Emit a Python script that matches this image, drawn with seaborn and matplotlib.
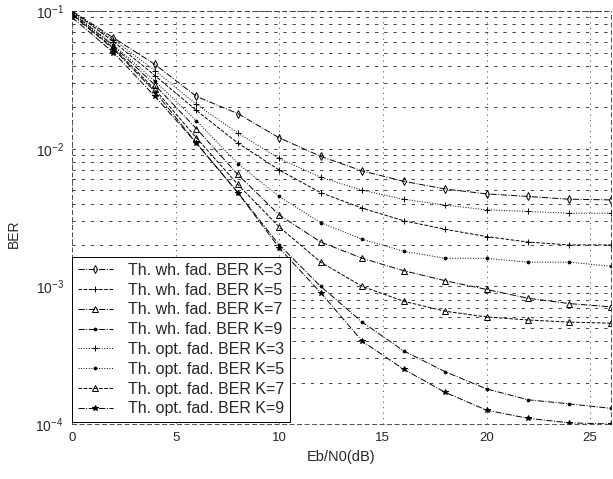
import numpy as np
import pandas as pd
import matplotlib
matplotlib.use("Agg")
import matplotlib.pyplot as plt
import seaborn as sns
from matplotlib.ticker import LogLocator, FixedLocator

ebn0 = [0, 2, 4, 6, 8, 10, 12, 14, 16, 18, 20, 22, 24, 26]

wh_k3 = [0.1, 0.064, 0.041, 0.024, 0.018, 0.012, 0.0088, 0.0069, 0.0058, 0.0051, 0.0047, 0.0045, 0.0043, 0.00425]
wh_k5 = [0.1, 0.06, 0.034, 0.019, 0.011, 0.007, 0.0048, 0.0037, 0.003, 0.0026, 0.0023, 0.0021, 0.0020, 0.0020]
wh_k7 = [0.097, 0.056, 0.029, 0.014, 0.0065, 0.0033, 0.0021, 0.0016, 0.0013, 0.0011, 0.00095, 0.00082, 0.00075, 0.00071]
wh_k9 = [0.094, 0.053, 0.026, 0.011, 0.0048, 0.002, 0.001, 0.00055, 0.00034, 0.00024, 0.00018, 0.00015, 0.00014, 0.00013]
opt_k3 = [0.1, 0.062, 0.037, 0.021, 0.013, 0.0085, 0.0062, 0.005, 0.0043, 0.0039, 0.0036, 0.0035, 0.0034, 0.0034]
opt_k5 = [0.098, 0.057, 0.031, 0.016, 0.0078, 0.0045, 0.0029, 0.0022, 0.0018, 0.0016, 0.0016, 0.0015, 0.0015, 0.0014]
opt_k7 = [0.095, 0.054, 0.027, 0.012, 0.0055, 0.0027, 0.0015, 0.001, 0.00078, 0.00066, 0.0006, 0.00057, 0.00055, 0.00054]
opt_k9 = [0.09, 0.05, 0.024, 0.011, 0.0048, 0.0019, 0.0009, 0.0004, 0.00025, 0.00017, 0.000126, 0.00011, 0.000102, 0.0001]

labels = ["Th. wh. fad. BER K=3", "Th. wh. fad. BER K=5", "Th. wh. fad. BER K=7",
          "Th. wh. fad. BER K=9", "Th. opt. fad. BER K=3", "Th. opt. fad. BER K=5",
          "Th. opt. fad. BER K=7", "Th. opt. fad. BER K=9"]
series = [wh_k3, wh_k5, wh_k7, wh_k9, opt_k3, opt_k5, opt_k7, opt_k9]

styles = [("-.", "d"), ("--", "+"), ("-.", "^"), ("-.", "."),
          (":", "+"), (":", "."), ("--", "^"), ("-.", "*")]

sns.set_style("white")
plt.rcParams["font.family"] = ["Liberation Sans", "DejaVu Sans"]
plt.rcParams["mathtext.fontset"] = "custom"
plt.rcParams["mathtext.rm"] = "Liberation Sans"
plt.rcParams["mathtext.it"] = "Liberation Sans"
plt.rcParams["mathtext.bf"] = "Liberation Sans:bold"

fig = plt.figure(figsize=(6.13, 4.79), dpi=100)
ax = fig.add_axes([0.1175, 0.1148, 0.879, 0.862])

for lab, vals, (ls, mk) in zip(labels, series, styles):
    df = pd.DataFrame({"x": ebn0, "y": vals})
    sns.lineplot(data=df, x="x", y="y", ax=ax, color="black", linestyle=ls,
                 marker=mk, markersize=4, markerfacecolor="none" if mk not in (".", "*") else "black",
                 markeredgecolor="black", markeredgewidth=0.7, linewidth=0.7,
                 label=lab, legend=True)

ax.set_yscale("log")
ax.set_xlim(0, 26)
ax.set_ylim(1e-4, 1e-1)
ax.xaxis.set_major_locator(FixedLocator([0, 5, 10, 15, 20, 25]))
ax.yaxis.set_major_locator(LogLocator(base=10, numticks=10))
ax.yaxis.set_minor_locator(LogLocator(base=10, subs=np.arange(2, 10), numticks=20))

ax.grid(True, which="both", axis="y", color="0.15", linestyle=(0, (4, 7)), linewidth=0.6)
ax.grid(True, which="major", axis="x", color="0.3", linestyle=(0, (1.5, 5)), linewidth=0.6)
ax.tick_params(axis="y", which="both", direction="in", labelsize=10, pad=6)
ax.tick_params(axis="x", which="both", direction="in", labelsize=9.5, pad=6)
for sp in ax.spines.values():
    sp.set_color("0.2")
    sp.set_linewidth(0.6)
    sp.set_linestyle((0, (5, 4)))

ax.set_xlabel("Eb/N0(dB)", fontsize=10.5, labelpad=4)
ax.set_ylabel("BER", fontsize=10, labelpad=22)
ax.yaxis.set_label_coords(-0.095, 0.46)

leg = ax.legend(loc="lower left", bbox_to_anchor=(0.0, 0.005), borderaxespad=0,
                fontsize=11.5, frameon=True, fancybox=False, edgecolor="black",
                handlelength=2.2, handletextpad=0.95, labelspacing=0.3,
                borderpad=0.35, framealpha=1)
leg.get_frame().set_linewidth(0.7)

fig.savefig("out.png", dpi=100)
